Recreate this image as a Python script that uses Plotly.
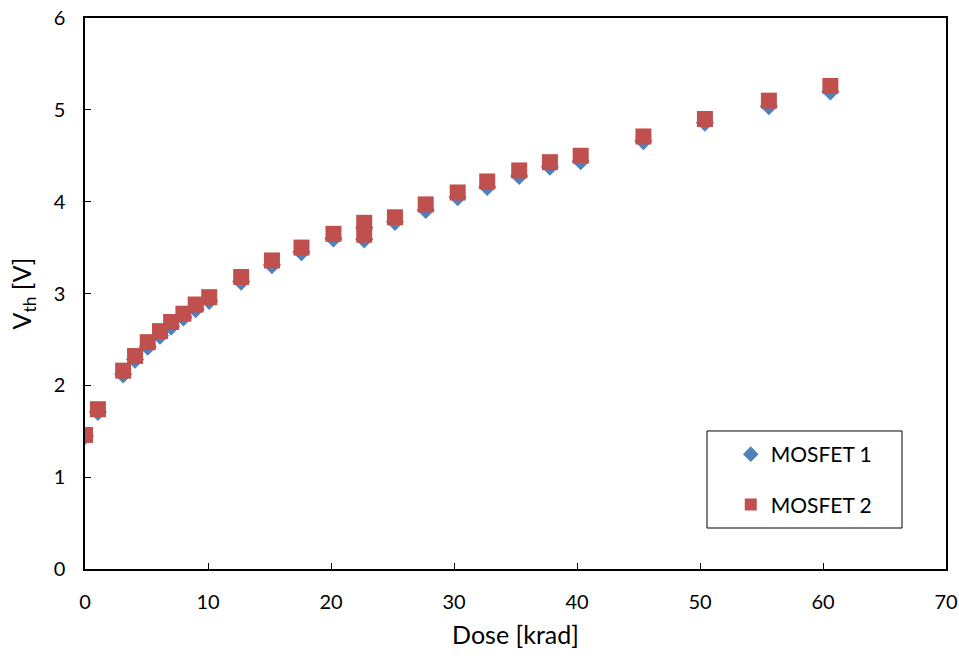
import plotly.graph_objects as go

dose = [0, 1.05, 3.1, 4.07, 5.1, 6.1, 7.0, 8.0, 9.0, 10.1, 12.7, 15.2, 17.6, 20.2,
        22.7, 22.7, 25.2, 27.7, 30.3, 32.7, 35.3, 37.8, 40.3, 45.4, 50.4, 55.6, 60.6]
vth_m2 = [1.46, 1.74, 2.16, 2.32, 2.47, 2.59, 2.69, 2.78, 2.88, 2.96, 3.18, 3.36, 3.50, 3.65,
          3.77, 3.64, 3.83, 3.97, 4.10, 4.22, 4.34, 4.43, 4.50, 4.71, 4.90, 5.10, 5.26]
vth_m1 = [1.45, 1.71, 2.12, 2.28, 2.42, 2.54, 2.64, 2.74, 2.83, 2.92, 3.13, 3.31, 3.45, 3.60,
          3.72, 3.59, 3.78, 3.91, 4.05, 4.16, 4.28, 4.38, 4.44, 4.66, 4.86, 5.04, 5.20]
x_ticks = [0, 10, 20, 30, 40, 50, 60, 70]
y_ticks = [0, 1, 2, 3, 4, 5, 6]

fig = go.Figure()
fig.add_trace(go.Scatter(x=dose, y=vth_m1, mode="markers", name="MOSFET 1", legendgroup="a",
                         marker=dict(symbol="diamond", size=14, color="#4F81BD")))
fig.add_trace(go.Scatter(x=dose, y=vth_m2, mode="markers", name="MOSFET 2", legendgroup="b",
                         marker=dict(symbol="square", size=16, color="#C0504D")))

font = "Lato, 'Noto Sans', sans-serif"
fig.update_layout(
    width=959, height=658,
    margin=dict(l=85, r=13, t=18, b=89),
    plot_bgcolor="white", paper_bgcolor="white",
    font=dict(family=font, size=20, color="black"),
    xaxis=dict(range=[0, 70], tickvals=x_ticks, showgrid=False, zeroline=False,
               showline=True, linecolor="black", linewidth=1.5, mirror=True,
               ticks="inside", ticklen=6, tickcolor="black", automargin=False,
               ticklabelstandoff=14,
               title=dict(text="Dose [krad]", font=dict(size=25)),
               tickfont=dict(size=20)),
    yaxis=dict(range=[0, 6], tickvals=y_ticks, showgrid=False, zeroline=False,
               showline=True, linecolor="black", linewidth=1.5, mirror=True,
               ticks="inside", ticklen=6, tickcolor="black", automargin=False,
               ticklabelstandoff=14,
               title=dict(text="V<sub>th</sub> [V]", font=dict(size=25)),
               tickfont=dict(size=20)),
    legend=dict(x=0.75, y=0.245, xanchor="left", yanchor="top",
                bordercolor="rgba(0,0,0,0)", borderwidth=0, bgcolor="rgba(0,0,0,0)",
                font=dict(size=21), tracegroupgap=20, itemsizing="constant"),
    shapes=[dict(type="rect", xref="paper", yref="paper",
                 x0=0.7224, x1=0.9489, y0=0.0744, y1=0.2505,
                 line=dict(color="black", width=1), fillcolor="white", layer="above")],
)
fig.write_html("out.html")
